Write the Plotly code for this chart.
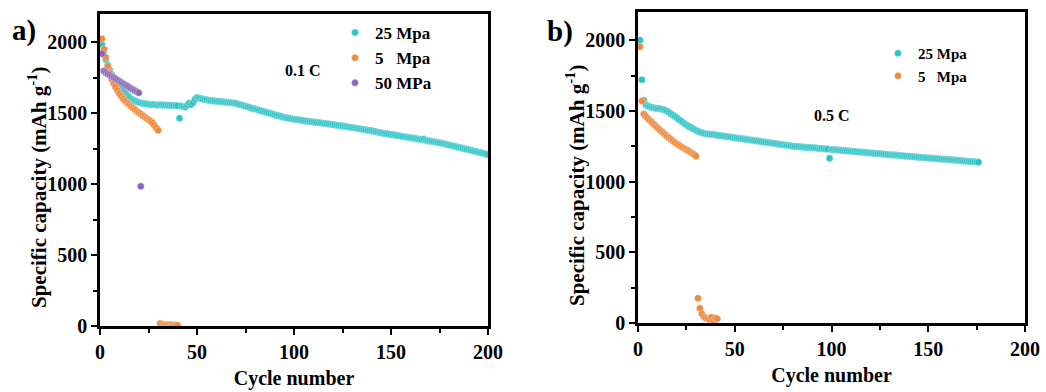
import plotly.graph_objects as go

# ---------------- Data: panel a (0.1 C) ----------------
a_25_values = [
    1985, 1935, 1880, 1840, 1805, 1776, 1750, 1728, 1708, 1690,
    1672, 1656, 1641, 1627, 1614, 1603, 1595, 1588, 1582, 1577,
    1573, 1570, 1567, 1565, 1563, 1562, 1560, 1561, 1559, 1558,
    1560, 1558, 1557, 1559, 1556, 1557, 1555, 1556, 1554, 1553,
    1465, 1551, 1547, 1545, 1557, 1571, 1562, 1576, 1598, 1612,
    1608, 1604, 1600, 1597, 1595, 1592, 1590, 1589, 1587, 1585,
    1584, 1583, 1581, 1579, 1578, 1577, 1575, 1574, 1572, 1570,
    1566, 1562, 1558, 1554, 1550, 1546, 1542, 1538, 1534, 1530,
    1526, 1522, 1518, 1514, 1510, 1506, 1502, 1498, 1494, 1490,
    1486, 1482, 1479, 1475, 1472, 1469, 1466, 1463, 1461, 1458,
    1456, 1454, 1452, 1450, 1448, 1446, 1444, 1442, 1440, 1438,
    1437, 1435, 1434, 1432, 1430, 1428, 1426, 1424, 1422, 1420,
    1418, 1416, 1414, 1412, 1410, 1408, 1406, 1404, 1402, 1400,
    1398, 1395, 1393, 1390, 1388, 1386, 1383, 1381, 1378, 1376,
    1373, 1371, 1368, 1365, 1362, 1360, 1357, 1355, 1352, 1350,
    1348, 1346, 1344, 1342, 1340, 1337, 1335, 1332, 1330, 1328,
    1326, 1323, 1321, 1318, 1316, 1314, 1318, 1310, 1307, 1305,
    1302, 1300, 1297, 1294, 1292, 1289, 1286, 1283, 1280, 1276,
    1273, 1270, 1267, 1263, 1260, 1257, 1254, 1250, 1247, 1244,
    1240, 1237, 1233, 1230, 1226, 1223, 1220, 1216, 1213, 1209,
]
a_25_cycles = list(range(1, len(a_25_values) + 1))

a_5_values = [
    2025, 1952, 1895, 1832, 1785, 1742, 1712, 1686, 1662, 1640,
    1620, 1602, 1588, 1574, 1561, 1549, 1537, 1526, 1515, 1505,
    1495, 1485, 1475, 1465, 1455, 1445, 1432, 1416, 1398, 1380,
    18, 14, 12, 10, 9, 8, 8, 7, 7, 6,
]
a_5_cycles = list(range(1, len(a_5_values) + 1))

a_50_values = [
    1920, 1798, 1788, 1778, 1770, 1760, 1752, 1743, 1735, 1726,
    1717, 1709, 1700, 1692, 1684, 1675, 1667, 1659, 1651, 1644,
    985,
]
a_50_cycles = list(range(1, len(a_50_values) + 1))

# ---------------- Data: panel b (0.5 C) ----------------
b_25_values = [
    2000, 1720, 1575, 1545, 1535, 1530, 1526, 1522, 1520, 1518,
    1516, 1514, 1510, 1505, 1498, 1490, 1481, 1472, 1462, 1452,
    1442, 1432, 1422, 1412, 1403, 1394, 1386, 1378, 1370, 1363,
    1357, 1351, 1346, 1342, 1339, 1337, 1335, 1334, 1333, 1331,
    1329, 1327, 1325, 1323, 1321, 1319, 1317, 1315, 1313, 1311,
    1309, 1307, 1305, 1303, 1301, 1299, 1297, 1295, 1293, 1291,
    1289, 1287, 1285, 1283, 1281, 1279, 1277, 1275, 1273, 1271,
    1269, 1267, 1265, 1263, 1261, 1259, 1257, 1255, 1253, 1251,
    1250, 1249, 1248, 1246, 1245, 1244, 1243, 1242, 1241, 1240,
    1239, 1238, 1236, 1235, 1234, 1232, 1231, 1230, 1165, 1227,
    1226, 1225, 1224, 1223, 1222, 1220, 1219, 1218, 1216, 1215,
    1214, 1213, 1212, 1210, 1209, 1208, 1207, 1206, 1204, 1203,
    1202, 1201, 1199, 1198, 1197, 1196, 1195, 1194, 1192, 1191,
    1190, 1189, 1188, 1186, 1185, 1184, 1183, 1182, 1180, 1179,
    1178, 1177, 1176, 1175, 1173, 1172, 1171, 1170, 1169, 1168,
    1167, 1165, 1164, 1163, 1162, 1161, 1160, 1159, 1157, 1156,
    1155, 1154, 1153, 1152, 1151, 1150, 1149, 1148, 1146, 1145,
    1144, 1143, 1142, 1141, 1139, 1138,
]
b_25_cycles = list(range(1, len(b_25_values) + 1))

b_5_values = [
    1955, 1570, 1478, 1462, 1448, 1435, 1422, 1408, 1395, 1382,
    1370, 1357, 1345, 1333, 1321, 1310, 1299, 1288, 1278, 1268,
    1259, 1250, 1242, 1234, 1226, 1218, 1210, 1201, 1192, 1180,
    175, 105, 65, 45, 35, 30, 25, 40, 20, 35, 30,
]
b_5_cycles = list(range(1, len(b_5_values) + 1))

x_ticks = [0, 50, 100, 150, 200]
y_ticks = [0, 500, 1000, 1500, 2000]

CYAN = "#2DC3C4"
ORANGE = "#EC8A3E"
PURPLE = "#8C66B6"
FONT = "Liberation Serif"
Y_TITLE = "Specific capacity (mAh g<sup>-1</sup>)"

def mk(color):
    return dict(size=7, color=color, line=dict(width=0.6, color="rgba(255,255,255,0.55)"))

fig = go.Figure()
fig.add_trace(go.Scatter(x=a_25_cycles, y=a_25_values, mode="markers", name="25 Mpa",
                         marker=mk(CYAN), xaxis="x", yaxis="y", legend="legend"))
fig.add_trace(go.Scatter(x=a_5_cycles, y=a_5_values, mode="markers", name="5\u00a0\u00a0\u00a0Mpa",
                         marker=mk(ORANGE), xaxis="x", yaxis="y", legend="legend"))
fig.add_trace(go.Scatter(x=a_50_cycles, y=a_50_values, mode="markers", name="50 MPa",
                         marker=mk(PURPLE), xaxis="x", yaxis="y", legend="legend"))
fig.add_trace(go.Scatter(x=b_25_cycles, y=b_25_values, mode="markers", name="25 Mpa",
                         marker=mk(CYAN), xaxis="x2", yaxis="y2", legend="legend2"))
fig.add_trace(go.Scatter(x=b_5_cycles, y=b_5_values, mode="markers", name="5\u00a0\u00a0\u00a0Mpa",
                         marker=mk(ORANGE), xaxis="x2", yaxis="y2", legend="legend2"))

W, H = 1046, 392

def xax(domain, anchor):
    return dict(domain=domain, anchor=anchor, range=[0, 200], tickvals=x_ticks,
                ticks="outside", ticklen=6, tickwidth=2, tickcolor="black",
                minor=dict(dtick=25, tick0=0, ticks="outside", ticklen=4, tickwidth=2, tickcolor="black"),
                showline=True, linewidth=2.5, linecolor="black", mirror=True,
                showgrid=False, zeroline=False, automargin=False,
                tickfont=dict(size=20), title=dict(text="Cycle number", font=dict(size=20), standoff=10))

def yax(domain, anchor):
    return dict(domain=domain, anchor=anchor, range=[0, 2200], tickvals=y_ticks,
                ticks="outside", ticklen=6, tickwidth=2, tickcolor="black",
                minor=dict(dtick=250, tick0=0, ticks="outside", ticklen=4, tickwidth=2, tickcolor="black"),
                showline=True, linewidth=2.5, linecolor="black", mirror=True,
                showgrid=False, zeroline=False, automargin=False,
                tickfont=dict(size=20))

fig.update_layout(
    width=W, height=H,
    margin=dict(l=0, r=0, t=0, b=0),
    paper_bgcolor="white", plot_bgcolor="white",
    font=dict(family=FONT, color="black", weight="bold", size=16),
    xaxis=xax([100 / W, 488 / W], "y"),
    yaxis=yax([1 - 326 / H, 1 - 14 / H], "x"),
    xaxis2=xax([638 / W, 1025 / W], "y2"),
    yaxis2=yax([1 - 323 / H, 1 - 12 / H], "x2"),
    legend=dict(x=335 / W, y=1 - 15 / H, xanchor="left", yanchor="top",
                font=dict(family=FONT, size=17, color="black", weight="bold"),
                bgcolor="rgba(0,0,0,0)", itemsizing="trace", tracegroupgap=0),
    legend2=dict(x=878 / W, y=1 - 37 / H, xanchor="left", yanchor="top",
                 font=dict(family=FONT, size=15, color="black", weight="bold"),
                 bgcolor="rgba(0,0,0,0)", itemsizing="trace", tracegroupgap=0),
    annotations=[
        dict(text="a)", x=24 / W, y=1 - 30 / H, xref="paper", yref="paper", showarrow=False,
             font=dict(size=29), xanchor="center", yanchor="middle"),
        dict(text="b)", x=560 / W, y=1 - 32 / H, xref="paper", yref="paper", showarrow=False,
             font=dict(size=29), xanchor="center", yanchor="middle"),
        dict(text="0.1 C", x=303 / W, y=1 - 70 / H, xref="paper", yref="paper", showarrow=False,
             font=dict(size=16), xanchor="center", yanchor="middle"),
        dict(text="0.5 C", x=832 / W, y=1 - 115 / H, xref="paper", yref="paper", showarrow=False,
             font=dict(size=16), xanchor="center", yanchor="middle"),
        dict(text=Y_TITLE, x=37 / W, y=1 - 188 / H, xref="paper", yref="paper", showarrow=False,
             textangle=-90, font=dict(size=21), xanchor="center", yanchor="middle"),
        dict(text=Y_TITLE, x=575 / W, y=1 - 186 / H, xref="paper", yref="paper", showarrow=False,
             textangle=-90, font=dict(size=21), xanchor="center", yanchor="middle"),
    ],
)

fig.write_html("out.html")
